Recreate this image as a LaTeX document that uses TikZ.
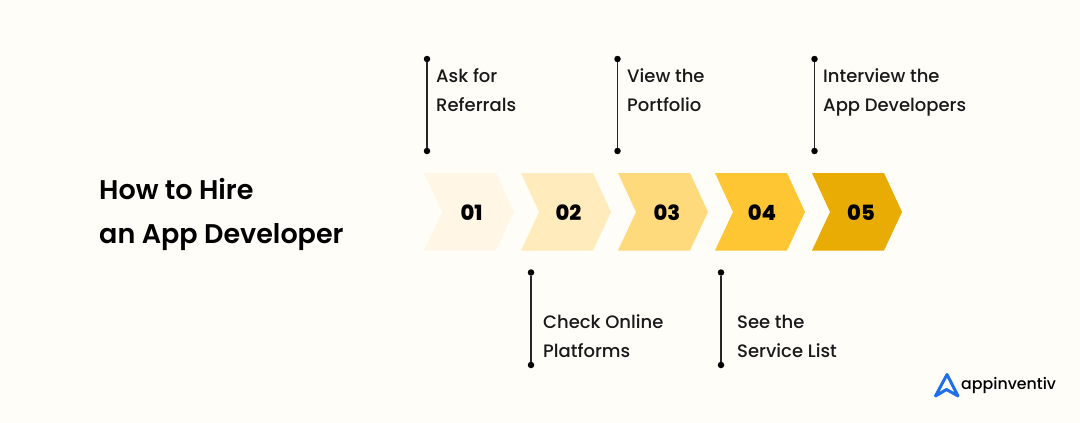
\documentclass[tikz,border=0pt]{standalone}
\usepackage{fontspec}
\setmainfont{Poppins}
\newfontfamily\numfont{Poppins}[UprightFont=* ExtraBold]
\newfontfamily\lblfont{Poppins}[UprightFont=* Medium]
\newfontfamily\titlefont{Poppins}[UprightFont=* SemiBold]
\definecolor{bgc}{HTML}{FFFDF8}
\definecolor{ca}{HTML}{FFF6E6}
\definecolor{cb}{HTML}{FFEBBB}
\definecolor{cc}{HTML}{FFDA7D}
\definecolor{cd}{HTML}{FFC633}
\definecolor{ce}{HTML}{E8AC04}
\definecolor{logoblue}{HTML}{1F6FEB}
\tikzset{
  lbl/.style={font=\fontsize{18}{29}\selectfont\lblfont,text=black!90,align=left,anchor=north west,inner sep=0pt},
  num/.style={font=\fontsize{21}{21}\selectfont\numfont,text=black,inner sep=0pt},
  stem/.style={line width=1.2pt,black!85},
  dot/.style={fill=black,circle,minimum size=6.5pt,inner sep=0pt},
}
\newcommand{\chev}[4]{\fill[#2] (#1,173) -- ++(72,0) -- ++(18,39) -- ++(-18,38.5) -- ++(-72,0) -- ++(18,-38.5) -- cycle; \node[num] (n#3) at (#4,212.5) {#3};}
\begin{document}
\begin{tikzpicture}[x=1pt,y=-1pt]
\useasboundingbox (0,0) rectangle (1080,423);
\fill[bgc] (0,0) rectangle (1080,423);
\node[anchor=west,inner sep=0pt,font=\fontsize{27}{44}\selectfont\titlefont,align=left] (title) at (99,214) {How to Hire\\an App Developer};
\chev{424}{ca}{01}{471.5}
\chev{521}{cb}{02}{568.5}
\chev{618}{cc}{03}{667}
\chev{715}{cd}{04}{762}
\chev{812}{ce}{05}{861}
\foreach \n/\x in {a/427,c/617.5,e/814.5}{
  \node[dot] (\n1) at (\x,59) {};
  \node[dot] (\n2) at (\x,151) {};
  \draw[stem] (\n1) -- (\n2);
}
\foreach \n/\x in {b/531,d/721}{
  \node[dot] (\n1) at (\x,272.5) {};
  \node[dot] (\n2) at (\x,365) {};
  \draw[stem] (\n1) -- (\n2);
}
\node[lbl] (ta) at (436,68.5) {Ask for\\Referrals};
\node[lbl] (tc) at (627,68.5) {View the\\Portfolio};
\node[lbl] (te) at (823,68.5) {Interview the\\App Developers};
\node[lbl] (tb) at (543,314.5) {Check Online\\Platforms};
\node[lbl] (td) at (737,314.5) {See the\\Service List};
\draw[logoblue,line width=3pt,line join=round,line cap=round] (935.5,396) -- (947,374.5) -- (958,396) -- (946.5,389.5) -- cycle;
\node[anchor=west,inner sep=0pt,font=\fontsize{15.8}{18}\selectfont\lblfont,text=black] (logo) at (961,385) {appinventiv};
\end{tikzpicture}
\end{document}
